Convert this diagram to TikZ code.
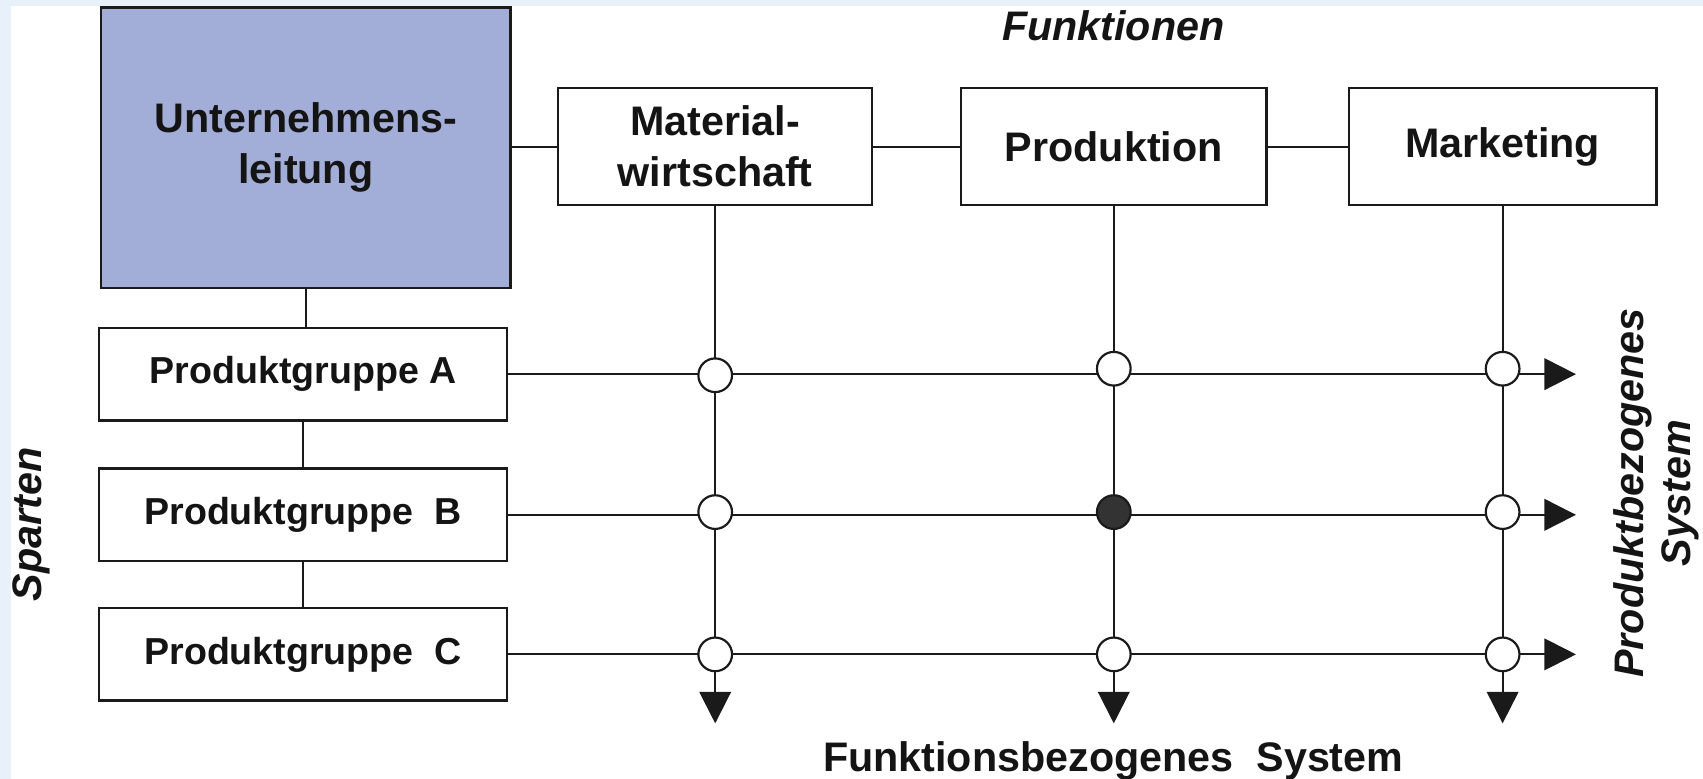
\documentclass[tikz,border=0pt]{standalone}
\usepackage{fontspec}
\setmainfont{Liberation Sans}
\usepackage{xcolor}
\usepackage{tikz}
\usetikzlibrary{arrows.meta,backgrounds,positioning}

\begin{document}
\begin{tikzpicture}[
    x=0.5pt, y=-0.5pt,
    line cap=round,
    %styles
    main box/.style={draw=linecolor, line width=1.1pt, fill=white, inner sep=0pt,
        text=textcolor, align=center, font=\fontsize{19}{23.5}\selectfont\bfseries},
    function box/.style={main box, minimum height=54pt},
    group box/.style={main box, minimum width=188pt, minimum height=42.5pt,
        font=\fontsize{17.3}{21}\selectfont\bfseries},
    crossing/.style={circle, draw=linecolor, line width=1pt, fill=white,
        minimum size=15.5pt, inner sep=0pt},
    link/.style={draw=linecolor, line width=1pt},
    flow line/.style={link, -{Triangle[length=14.5pt,width=14.5pt]}},
    axis text/.style={text=textcolor, font=\fontsize{19}{21.5}\selectfont\bfseries\itshape},
  ]
  %colors
  \definecolor{bandcolor}{RGB}{232,240,250}
  \definecolor{headcolor}{RGB}{163,174,216}
  \definecolor{linecolor}{RGB}{26,26,26}
  \definecolor{textcolor}{RGB}{20,20,20}
  \definecolor{dotcolor}{RGB}{51,51,51}
  \useasboundingbox (0,0) rectangle (1568,717);

  % Leitung und Funktionen
  \node[main box, fill=headcolor, minimum width=188.5pt, minimum height=129pt] (ul) at (281.5,136) {Unternehmens-\\leitung};
  \node[function box, minimum width=144.5pt] (mw) at (658.5,135) {Material-\\wirtschaft};
  \node[function box, minimum width=140.5pt] (pr) at (1025.5,135) {Produktion};
  \node[function box, minimum width=141.5pt] (mk) at (1383.5,135) {Marketing};

  % Sparten
  \node[group box] (pa) at (279,344.5) {Produktgruppe A};
  \node[group box] (pb) at (279,474) {Produktgruppe\ \ B};
  \node[group box] (pc) at (279,602.5) {Produktgruppe\ \ C};

  \coordinate (tipx) at (1451,0);
  \coordinate (tipy) at (0,666);

  % Knoten der Matrix
  \foreach \f/\g/\dy/\fillc in {mw/pa/-0.5/white, pr/pa/2.5/white, mk/pa/2.5/white,
      mw/pb/1.25/white, pr/pb/1.25/dotcolor, mk/pb/1.25/white,
      mw/pc/0/white, pr/pc/0/white, mk/pc/0/white}
  \node[crossing, fill=\fillc, yshift=\dy pt] (\f-\g) at (\f.south |- \g.east) {};

  % Beschriftungen
  \node[axis text, anchor=base] (fk) at (1025,37) {Funktionen};
  \node[text=textcolor, font=\fontsize{19}{22.5}\selectfont\bfseries, anchor=base] (fs) at (1025,710) {Funktionsbezogenes\ \ System};
  \node[axis text, rotate=90] (sp) at (29,483) {Sparten};
  \node[axis text, rotate=90, align=center] (ps) at (1525,454) {Produktbezogenes\\System};

  \begin{scope}[on background layer]
    \fill[bandcolor] (0,0) rectangle (1568,717);
    \fill[white] (10,5.5) rectangle (1568,717);
    \draw[link] (mw.west) -- (mw.west -| ul.east);
    \draw[link] (mw.east) -- (pr.west);
    \draw[link] (pr.east) -- (mk.west);
    \draw[link] (ul.south) -- (ul.south |- pa.north);
    \draw[link] (pa.south) -- (pb.north);
    \draw[link] (pb.south) -- (pc.north);
    \foreach \g in {pa,pb,pc}
    \draw[flow line] (\g.east) -- (\g.east -| tipx);
    \foreach \f in {mw,pr,mk}
    \draw[flow line] (\f.south) -- (\f.south |- tipy);
  \end{scope}
\end{tikzpicture}
\end{document}
